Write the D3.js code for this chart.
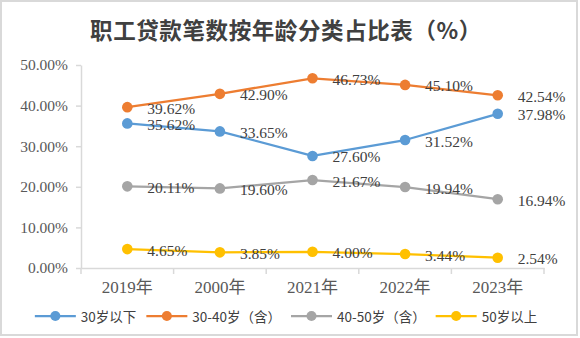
<!DOCTYPE html>
<html><head><meta charset="utf-8">
<script src="https://cdn.jsdelivr.net/npm/d3@7"></script>
<style>html,body{margin:0;padding:0;background:#fff;}</style>
</head><body>
<svg id="chart" width="580" height="338"></svg>
<script>
const title = "职工贷款笔数按年龄分类占比表（%）";
const categories = ["2019年", "2000年", "2021年", "2022年", "2023年"];
const seriesNames = ["30岁以下", "30-40岁（含）", "40-50岁（含）", "50岁以上"];
const under30 = [35.62, 33.65, 27.60, 31.52, 37.98];
const age30to40 = [39.62, 42.90, 46.73, 45.10, 42.54];
const age40to50 = [20.11, 19.60, 21.67, 19.94, 16.94];
const over50 = [4.65, 3.85, 4.00, 3.44, 2.54];
const yTicks = [0, 10, 20, 30, 40, 50];
const colors = ["#5b9bd5", "#ed7d31", "#a5a5a5", "#ffc000"];

(function () {
const series = [under30, age30to40, age40to50, over50].map((v, i) => ({name: seriesNames[i], values: v, color: colors[i]}));

const svg = d3.select("#chart");
const pLeft = 81, pRight = 544, pTop = 65, pBottom = 268;

svg.append("rect").attr("x", 1).attr("y", 1).attr("width", 576).attr("height", 334)
  .attr("fill", "#fff").attr("stroke", "#d9d9d9").attr("stroke-width", 2);

svg.append("text").attr("x", 286).attr("y", 29).attr("text-anchor", "middle")
  .attr("dominant-baseline", "central")
  .style("font-family", "'Noto Sans CJK SC'").style("font-size", "22.5px").style("font-weight", "bold")
  .style("letter-spacing", "0.6px")
  .attr("fill", "#404040").text(title);

const x = d3.scaleBand().domain(categories).range([pLeft, pRight]);
const y = d3.scaleLinear().domain([0, 50]).range([pBottom, pTop]);

const numFont = "'Liberation Serif', serif";

// Y axis
const yAxis = svg.append("g").attr("transform", `translate(${pLeft},0)`)
  .call(d3.axisLeft(y).tickValues(yTicks).tickSize(5).tickSizeOuter(0).tickPadding(8)
    .tickFormat(d => d3.format(".2f")(d) + "%"));
yAxis.select(".domain").attr("stroke", "#d9d9d9").attr("stroke-width", 1.5);
yAxis.selectAll(".tick line").attr("stroke", "#d9d9d9").attr("stroke-width", 1.5);
yAxis.selectAll(".tick text").style("font-family", numFont).style("font-size", "15.5px").attr("fill", "#595959");

// X axis
const xAxis = svg.append("g").attr("transform", `translate(0,${pBottom})`)
  .call(d3.axisBottom(x).tickSize(0).tickPadding(13));
xAxis.select(".domain").attr("stroke", "#d9d9d9").attr("stroke-width", 1.5);
xAxis.selectAll(".tick text").style("font-family", "'Liberation Serif','Noto Sans CJK SC'").style("font-size", "17px").attr("fill", "#595959");
const bounds = categories.map(c => x(c)).concat([pRight]);
svg.append("g").selectAll("line").data(bounds).join("line")
  .attr("x1", d => d).attr("x2", d => d).attr("y1", pBottom).attr("y2", pBottom + 6)
  .attr("stroke", "#d9d9d9").attr("stroke-width", 1.5);

const cx = c => x(c) + x.bandwidth() / 2;
const line = d3.line().x((d, i) => cx(categories[i])).y(d => y(d));

const g = svg.append("g");
series.forEach(s => {
  g.append("path").datum(s.values).attr("d", line).attr("fill", "none")
    .attr("stroke", s.color).attr("stroke-width", 2.25).attr("stroke-linejoin", "round");
});
series.forEach(s => {
  g.append("g").selectAll("circle").data(s.values).join("circle")
    .attr("cx", (d, i) => cx(categories[i])).attr("cy", d => y(d)).attr("r", 5.3)
    .attr("fill", s.color);
});
series.forEach(s => {
  g.append("g").selectAll("text").data(s.values).join("text")
    .attr("x", (d, i) => cx(categories[i]) + 20).attr("y", d => y(d) + 1)
    .attr("dominant-baseline", "central")
    .style("font-family", numFont).style("font-size", "15.5px").attr("fill", "#404040")
    .text(d => d3.format(".2f")(d) + "%");
});

// Legend
const leg = svg.append("g");
const ly = 316;
const items = [];
let pos = 0;
series.forEach((s) => {
  const it = leg.append("g");
  it.append("line").attr("x1", 0).attr("x2", 41).attr("y1", 0).attr("y2", 0).attr("stroke", s.color).attr("stroke-width", 2.25);
  it.append("circle").attr("cx", 20.5).attr("cy", 0).attr("r", 5).attr("fill", s.color);
  const t = it.append("text").attr("x", 46).attr("y", 0).attr("dominant-baseline", "central")
    .style("font-family", "'Noto Sans CJK SC'").style("font-size", "13.5px").attr("fill", "#404040").text(s.name);
  const w = 46 + t.node().getComputedTextLength();
  items.push({it, pos});
  pos += w + 10;
});
const total = pos - 10;
const start = 286 - total / 2;
items.forEach(d => d.it.attr("transform", `translate(${start + d.pos},${ly})`));
})();
</script>
</body></html>
